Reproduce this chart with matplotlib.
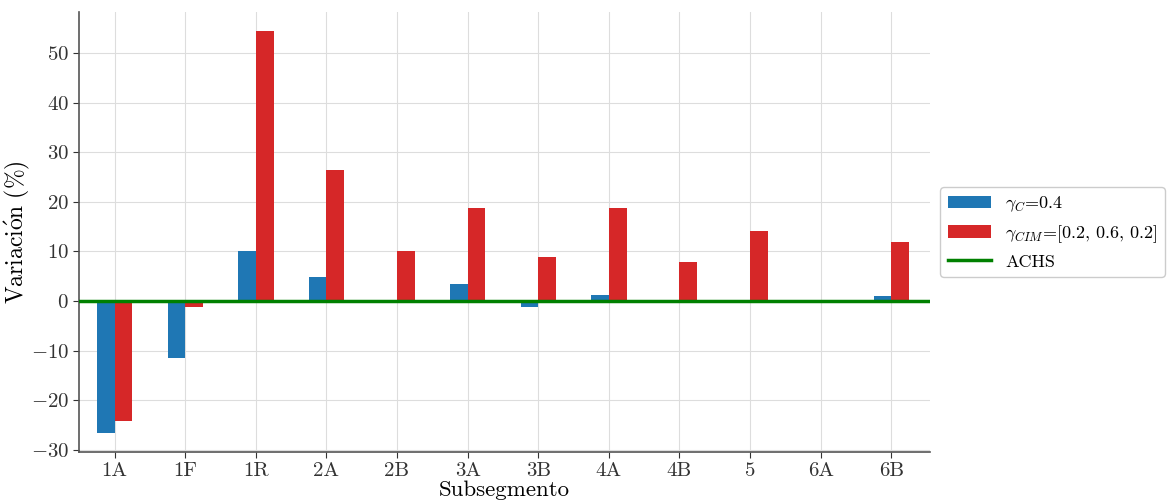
import matplotlib
matplotlib.use("Agg")
import matplotlib.pyplot as plt
import numpy as np

# Data
subsegmentos = ["1A", "1F", "1R", "2A", "2B", "3A", "3B", "4A", "4B", "5", "6A", "6B"]
var_gamma_c = [-26.6, -11.5, 10.1, 4.9, 0.0, 3.4, -1.3, 1.3, 0.0, 0.0, 0.0, 1.0]
var_gamma_cim = [-24.2, -1.3, 54.4, 26.5, 10.1, 18.7, 8.9, 18.7, 7.9, 14.2, 0.0, 11.8]

label_c = r"$\gamma_C$=0.4"
label_cim = r"$\gamma_{CIM}$=[0.2, 0.6, 0.2]"
label_ref = "ACHS"

plt.rcParams["font.family"] = ["cmr10", "DejaVu Serif"]
plt.rcParams["mathtext.fontset"] = "cm"
plt.rcParams["axes.formatter.use_mathtext"] = True
plt.rcParams["axes.unicode_minus"] = True

fig = plt.figure(figsize=(11.67, 5.04), dpi=100)
ax = fig.add_axes([0.068, 0.103, 0.729, 0.873])

x = np.arange(len(subsegmentos))
w = 0.25
b1 = ax.bar(x - w / 2, var_gamma_c, width=w, color="#1f77b4", label=label_c, zorder=2)
b2 = ax.bar(x + w / 2, var_gamma_cim, width=w, color="#d62728", label=label_cim, zorder=2)
ln = ax.axhline(0, color="green", linewidth=2.5, label=label_ref, zorder=3)

ax.set_xticks(x)
ax.set_xticklabels(subsegmentos)
ax.set_xlim(-0.5, 11.55)
ax.set_ylim(-30.5, 58.3)
ax.set_yticks(np.arange(-30, 51, 10))

ax.grid(True, color="#dddddd", linewidth=0.8, zorder=0)
ax.set_axisbelow(True)
for side in ["top", "right"]:
    ax.spines[side].set_visible(False)
for side in ["left", "bottom"]:
    ax.spines[side].set_color("#555555")
    ax.spines[side].set_linewidth(1.2)

ax.tick_params(labelsize=15, colors="#333333", length=4)
ax.set_xlabel("Subsegmento", fontsize=16.5, labelpad=0)
ax.set_ylabel(r"$\mathrm{Variaci\acute{o}n\ (\%)}$", fontsize=17)
ax.yaxis.set_label_coords(-0.056, 0.5)

ax.legend(handles=[b1, b2, ln], loc="center left", bbox_to_anchor=(1.012, 0.5),
          borderaxespad=0, fontsize=13, handlelength=2.4, handletextpad=0.8,
          frameon=True, edgecolor="#cccccc", framealpha=1.0)

fig.savefig("out.png", dpi=100)
